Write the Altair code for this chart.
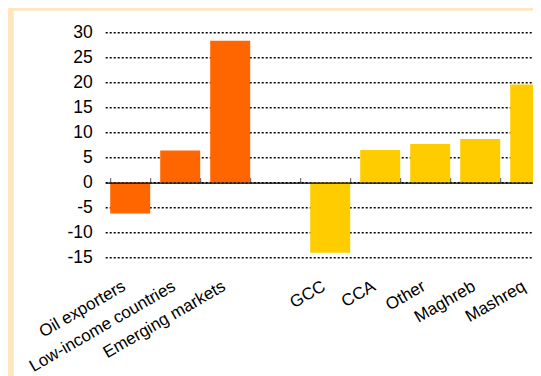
import altair as alt
import pandas as pd

categories = ["Oil exporters", "Low-income countries", "Emerging markets", " ",
              "GCC", "CCA", "Other", "Maghreb", "Mashreq"]
values = [-6.2, 6.4, 28.3, None, -14.0, 6.5, 7.7, 8.7, 19.6]
groups = ["Comparators", "Comparators", "Comparators", "Comparators",
          "Regions", "Regions", "Regions", "Regions", "Regions"]
group_names = ["Comparators", "Regions"]
group_colors = ["#FF6600", "#FFCC00"]
y_ticks = [-15, -10, -5, 0, 5, 10, 15, 20, 25, 30]

BEIGE = "#FEE7C0"
FONT = "Liberation Sans"

df = pd.DataFrame({"category": categories, "value": values, "group": groups})
one = pd.DataFrame({"k": [0]})

x_scale = alt.Scale(domain=categories, range=[0, 450], paddingInner=0.2, paddingOuter=0.1)
y_scale = alt.Scale(domain=[-15, 30], nice=False, zero=False)

top_strip = alt.Chart(one).mark_rect(color=BEIGE).encode(
    x=alt.value(-97.2), x2=alt.value(460), y=alt.value(-24.3), y2=alt.value(-21.6)
)
left_strip = alt.Chart(one).mark_rect(color=BEIGE).encode(
    x=alt.value(-97.2), x2=alt.value(-91.4), y=alt.value(-24.3), y2=alt.value(400)
)

bars = alt.Chart(df).mark_bar().encode(
    x=alt.X("category:N", scale=x_scale, sort=None,
            axis=alt.Axis(title=None, labelAngle=-30, labelAlign="right",
                          labelBaseline="middle", labelPadding=27, labelOffset=-6,
                          ticks=False, tickSize=0, domain=False, grid=False,
                          labelFontSize=17, labelFont=FONT, labelColor="black",
                          labelLimit=400, labelOverlap=False, labelFlush=False)),
    y=alt.Y("value:Q", scale=y_scale,
            axis=alt.Axis(title=None, values=y_ticks, labelExpr="datum.value + ''",
                          grid=True, gridColor="black", gridDash=[2, 2], gridWidth=1.5,
                          domain=False, ticks=False, tickSize=0, labelPadding=13,
                          labelFontSize=17.5, labelFont=FONT, labelColor="black")),
    color=alt.Color("group:N", scale=alt.Scale(domain=group_names, range=group_colors),
                    legend=None),
)

zero_axis = alt.Chart(df).mark_point(opacity=0).encode(
    x=alt.X("category:N", scale=x_scale, sort=None,
            axis=alt.Axis(orient="top", offset=-150.3, title=None, labels=False,
                          ticks=True, tickSize=5, tickColor="#555555", tickWidth=1,
                          tickBand="extent", domain=True, domainColor="black",
                          domainWidth=1.3, grid=False, zindex=1)),
)

chart = alt.layer(top_strip, left_strip, bars, zero_axis).resolve_axis(
    x="independent"
).properties(
    width=427.8, height=225.4, background="white",
    autosize=alt.AutoSizeParams(type="none"),
    padding={"left": 97.2, "top": 24.3, "right": 0, "bottom": 118.3},
).configure_view(stroke=None)

chart.save("out.html", embed_options={"renderer": "svg", "actions": False})
